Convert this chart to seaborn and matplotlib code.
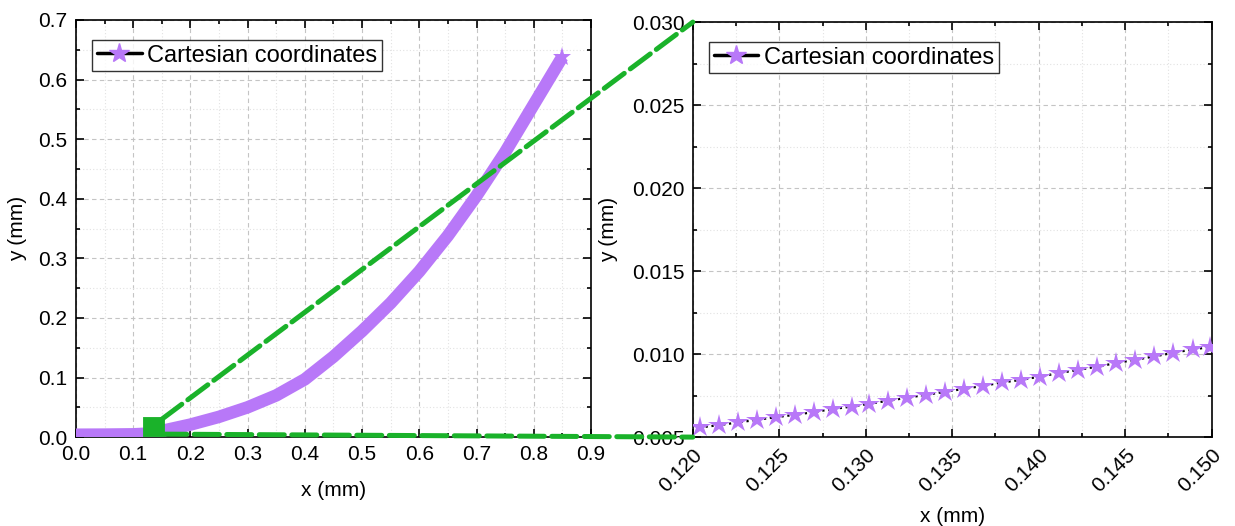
import numpy as np
import matplotlib
matplotlib.use('Agg')
import matplotlib.pyplot as plt
from matplotlib.lines import Line2D
from matplotlib.patches import Rectangle, ConnectionPatch
from matplotlib.ticker import MultipleLocator, FormatStrFormatter
import seaborn as sns

# full curve (left panel)
x_full = [0.0, 0.05, 0.10, 0.12, 0.15, 0.20, 0.25, 0.30, 0.35, 0.40, 0.45,
          0.50, 0.55, 0.60, 0.65, 0.70, 0.75, 0.80, 0.85]
y_full = [0.004, 0.0042, 0.0047, 0.0056, 0.0104, 0.021, 0.034, 0.050, 0.070, 0.097, 0.135,
          0.178, 0.225, 0.278, 0.338, 0.405, 0.478, 0.558, 0.638]

# zoomed region (right panel)
x_zoom = [0.1204, 0.1215, 0.1226, 0.1237, 0.1248, 0.1259, 0.1270, 0.1281, 0.1292,
          0.1302, 0.1313, 0.1324, 0.1335, 0.1346, 0.1357, 0.1368, 0.1379, 0.1390,
          0.1401, 0.1412, 0.1423, 0.1434, 0.1445, 0.1456, 0.1467, 0.1478, 0.1489, 0.1499]
y_zoom = [0.00558, 0.00572, 0.00588, 0.00604, 0.00620, 0.00634, 0.00651, 0.00669,
          0.00684, 0.00701, 0.00719, 0.00737, 0.00755, 0.00773, 0.00791, 0.00809,
          0.00829, 0.00845, 0.00865, 0.00886, 0.00905, 0.00925, 0.00946, 0.00966,
          0.00986, 0.01008, 0.01028, 0.01042]

# zoom window
zx = [0.12, 0.15]
zy = [0.005, 0.030]

purple = '#b878f8'
green = '#1ab22a'
label = 'Cartesian coordinates'

sns.set_style('ticks')
plt.rcParams['font.family'] = ['Liberation Sans', 'DejaVu Sans']
plt.rcParams['text.color'] = 'black'
plt.rcParams['axes.labelcolor'] = 'black'
plt.rcParams['xtick.color'] = 'black'
plt.rcParams['ytick.color'] = 'black'

fig = plt.figure(figsize=(12.35, 5.26), dpi=100)
ax1 = fig.add_axes([0.0615, 0.169, 0.417, 0.793])
ax2 = fig.add_axes([0.561, 0.169, 0.420, 0.789])


def style_axes(ax, xmaj, ymaj, xfmt, yfmt):
    ax.xaxis.set_major_locator(MultipleLocator(xmaj))
    ax.xaxis.set_minor_locator(MultipleLocator(xmaj / 2))
    ax.yaxis.set_major_locator(MultipleLocator(ymaj))
    ax.yaxis.set_minor_locator(MultipleLocator(ymaj / 2))
    ax.xaxis.set_major_formatter(FormatStrFormatter(xfmt))
    ax.yaxis.set_major_formatter(FormatStrFormatter(yfmt))
    ax.tick_params(which='both', direction='in', top=True, right=True, width=1.2,
                   color='black', labelcolor='black')
    ax.tick_params(which='major', length=6, labelsize=15, pad=6)
    ax.tick_params(which='minor', length=3)
    ax.grid(which='major', color='#c4c4c4', ls=(0, (4, 3)), lw=0.8)
    ax.grid(which='minor', color='#e2e2e2', ls=(0, (1, 2)), lw=0.8)
    ax.set_axisbelow(True)
    for s in ax.spines.values():
        s.set_color('black')
        s.set_linewidth(1.2)


# left panel
sns.lineplot(x=x_full, y=y_full, ax=ax1, color=purple, lw=9, marker='*',
             markersize=14, markeredgewidth=0, markerfacecolor=purple,
             markevery=[len(x_full) - 1], solid_capstyle='butt',
             solid_joinstyle='round', zorder=3)
ax1.add_patch(Rectangle((zx[0], zy[0]), zx[1] - zx[0], zy[1] - zy[0],
                        facecolor=green, edgecolor=green, lw=3.5, zorder=4))
ax1.set_xlim(0, 0.9)
ax1.set_ylim(0, 0.7)
style_axes(ax1, 0.1, 0.1, '%.1f', '%.1f')
ax1.set_xlabel('x (mm)', fontsize=15, labelpad=12)
ax1.set_ylabel('y (mm)', fontsize=15, labelpad=8)

# right panel
sns.lineplot(x=x_zoom, y=y_zoom, ax=ax2, color='black', lw=1.6, ls=':',
             marker='*', markersize=16, markeredgewidth=0,
             markerfacecolor=purple, markeredgecolor=purple, zorder=3)
ax2.set_xlim(zx[0], zx[1])
ax2.set_ylim(zy[0], zy[1])
style_axes(ax2, 0.005, 0.005, '%.3f', '%.3f')
for t in ax2.get_xticklabels():
    t.set_rotation(45)
    t.set_ha('right')
    t.set_rotation_mode('anchor')
ax2.set_xlabel('x (mm)', fontsize=15, labelpad=8)
ax2.set_ylabel('y (mm)', fontsize=15, labelpad=10)

# legends
for ax in (ax1, ax2):
    h = Line2D([], [], color='black', lw=2.5, marker='*', markersize=15,
               markerfacecolor=purple, markeredgecolor=purple)
    leg = ax.legend([h], [label], loc='upper left', fontsize=17,
                    frameon=True, fancybox=False, handlelength=1.9,
                    borderpad=0.2, handletextpad=0.25, borderaxespad=0,
                    bbox_to_anchor=(0.031, 0.952))
    leg.get_frame().set_edgecolor('black')
    leg.get_frame().set_linewidth(1.0)
    leg.set_zorder(6)

# connection lines
for ya, yb in [(zy[1], zy[1]), (zy[0], zy[0])]:
    con = ConnectionPatch(xyA=(zx[1], ya), coordsA=ax1.transData,
                          xyB=(zx[0], yb), coordsB=ax2.transData,
                          color=green, lw=3.6, linestyle=(0, (5, 1.5)),
                          zorder=10)
    fig.add_artist(con)

fig.savefig('out.png', dpi=100)
